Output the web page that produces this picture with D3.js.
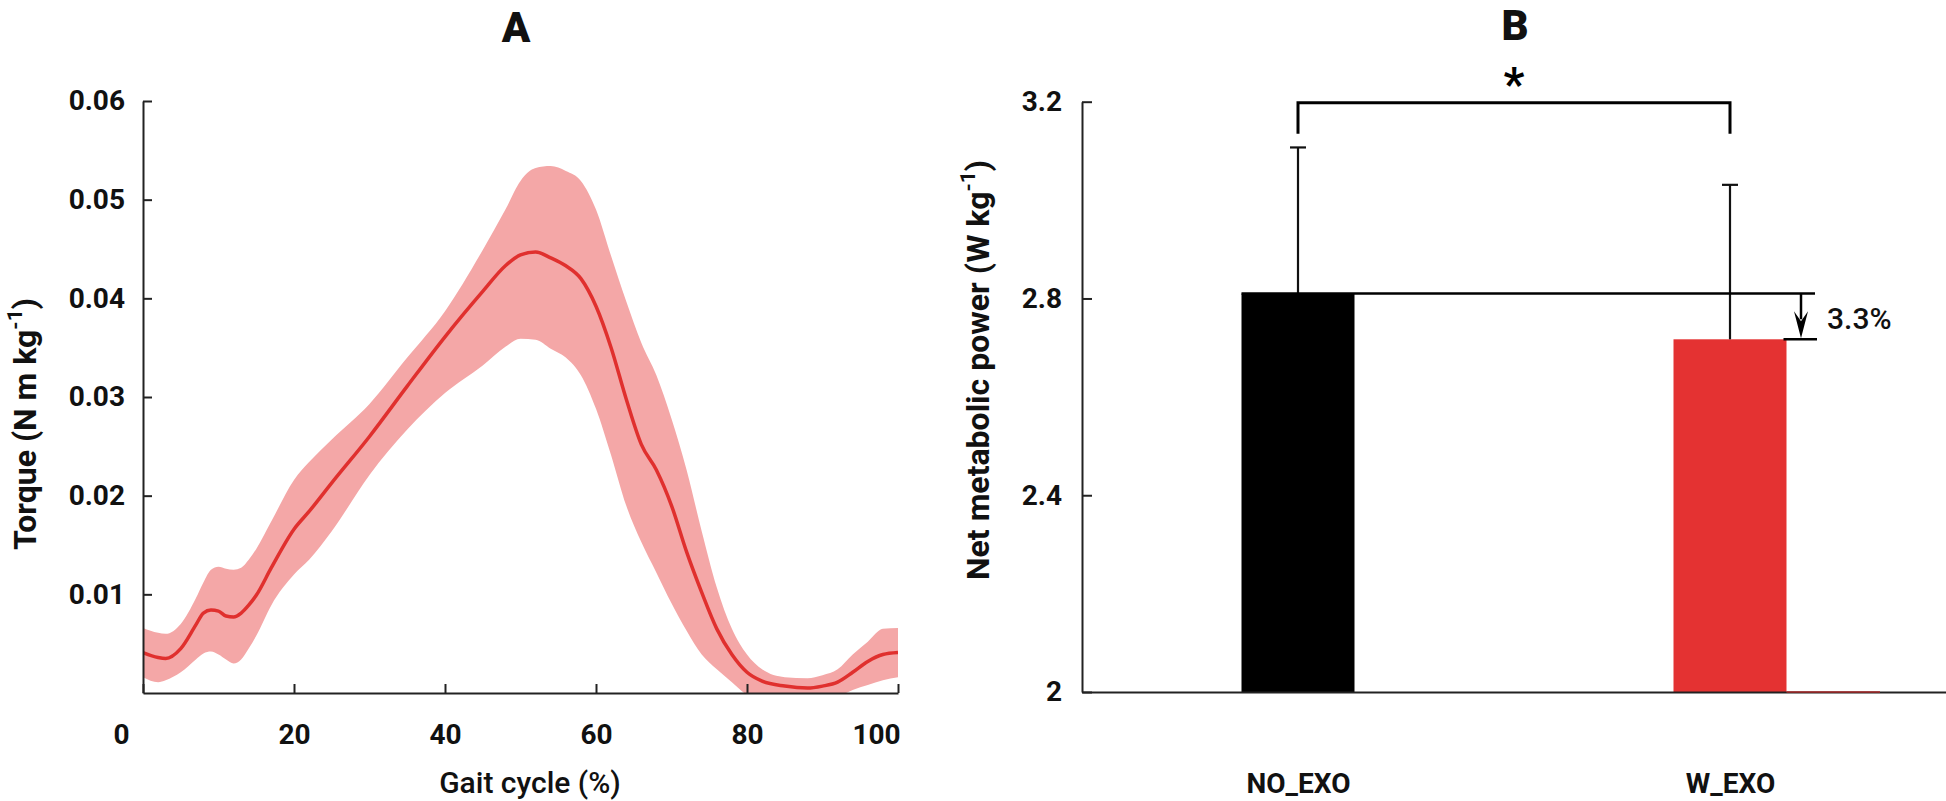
<!DOCTYPE html>
<html>
<head>
<meta charset="utf-8">
<script src="https://cdn.jsdelivr.net/npm/d3@7/dist/d3.min.js"></script>
<style>
  html, body { margin: 0; padding: 0; background: #fff; }
  svg { display: block; font-family: Roboto, "DejaVu Sans", sans-serif; }
  .axis text { font-size: 28px; font-weight: 700; fill: #111; font-family: Roboto, sans-serif; }
  .axis path, .axis line { stroke: #222; stroke-width: 2; }
</style>
</head>
<body>
<svg id="chart" width="1946" height="801"></svg>
<script>
// Panel A: gait cycle torque, mean and band (N m kg^-1)
const gaitPct = [0, 2, 3, 5, 7, 8, 9, 10, 11, 12, 13, 14, 15, 17, 20, 22, 25, 30, 35, 40, 45, 48, 50, 52, 54, 56, 58, 60, 62, 64, 66, 68, 70, 72, 74, 76, 78, 80, 82, 85, 88, 90, 92, 94, 96, 98, 100];
const torqueMean = [0.0041, 0.0036, 0.0035, 0.0045, 0.0069, 0.0081, 0.0084, 0.0083, 0.0078, 0.0077, 0.0081, 0.0089, 0.0099, 0.0127, 0.0166, 0.0184, 0.0213, 0.0260, 0.0311, 0.0361, 0.0407, 0.0433, 0.0444, 0.0447, 0.0441, 0.0433, 0.0420, 0.0392, 0.0350, 0.0298, 0.0252, 0.0226, 0.0190, 0.0143, 0.0102, 0.0065, 0.0039, 0.0021, 0.0012, 0.0007, 0.0005, 0.0007, 0.0011, 0.0021, 0.0032, 0.0039, 0.0041];
const torqueUpper = [0.0066, 0.0061, 0.0060, 0.0070, 0.0096, 0.0112, 0.0125, 0.0128, 0.0126, 0.0125, 0.0127, 0.0135, 0.0146, 0.0174, 0.0216, 0.0234, 0.0257, 0.0293, 0.0340, 0.0387, 0.0449, 0.0490, 0.0519, 0.0532, 0.0534, 0.0529, 0.0519, 0.0490, 0.0443, 0.0397, 0.0355, 0.0322, 0.0278, 0.0226, 0.0164, 0.0107, 0.0065, 0.0039, 0.0024, 0.0016, 0.0015, 0.0018, 0.0024, 0.0039, 0.0052, 0.0065, 0.0066];
const torqueLower = [0.0016, 0.0011, 0.0013, 0.0021, 0.0034, 0.0040, 0.0042, 0.0039, 0.0034, 0.0030, 0.0034, 0.0045, 0.0058, 0.0089, 0.0120, 0.0135, 0.0164, 0.0221, 0.0267, 0.0304, 0.0332, 0.0351, 0.0359, 0.0358, 0.0349, 0.0340, 0.0322, 0.0288, 0.0241, 0.0190, 0.0153, 0.0122, 0.0091, 0.0063, 0.0039, 0.0024, 0.0011, -0.0002, -0.0008, -0.0012, -0.0013, -0.0010, -0.0004, 0.0003, 0.0008, 0.0013, 0.0016];
const gaitTicks = [0, 20, 40, 60, 80, 100];
const torqueTicks = [0.01, 0.02, 0.03, 0.04, 0.05, 0.06];

// Panel B: net metabolic power (W kg^-1)
const conditions = ["NO_EXO", "W_EXO"];
const powerMean = [2.81, 2.717];
const powerSD = [0.297, 0.314];
const powerTicks = [2, 2.4, 2.8, 3.2];
const reductionLabel = "3.3%";

const svg = d3.select("#chart");

// ---------- Panel A ----------
const xA = d3.scaleLinear().domain([0, 100]).range([143, 898]);
const yA = d3.scaleLinear().domain([0, 0.06]).range([693, 101]);

const rowsA = gaitPct.map((p, i) => ({ p, m: torqueMean[i], hi: torqueUpper[i], lo: torqueLower[i] }));

svg.append("clipPath").attr("id", "clipA")
  .append("rect").attr("x", 143).attr("y", 90).attr("width", 755).attr("height", 603);

const gA = svg.append("g").attr("clip-path", "url(#clipA)");

gA.append("path")
  .datum(rowsA)
  .attr("fill", "#f4a7a7")
  .attr("d", d3.area().curve(d3.curveMonotoneX)
    .x(d => xA(d.p)).y0(d => yA(d.lo)).y1(d => yA(d.hi)));

gA.append("path")
  .datum(rowsA)
  .attr("fill", "none")
  .attr("stroke", "#e0302e")
  .attr("stroke-width", 3.5)
  .attr("d", d3.line().curve(d3.curveMonotoneX).x(d => xA(d.p)).y(d => yA(d.m)));

svg.append("g").attr("class", "axis")
  .attr("transform", "translate(0,693)")
  .call(d3.axisBottom(xA).tickValues(gaitTicks).tickSize(-9).tickSizeOuter(0).tickPadding(31).tickFormat(d3.format("d")))
  .selectAll("text")
  .attr("dx", d => (d === 0 || d === 100 ? -22 : 0));

svg.append("g").attr("class", "axis")
  .attr("transform", "translate(143,0)")
  .call(d3.axisLeft(yA).tickValues(torqueTicks).tickSize(-9).tickSizeOuter(0).tickPadding(18).tickFormat(d3.format(".2f")));

svg.append("text")
  .attr("x", 530).attr("y", 782).attr("text-anchor", "middle").attr("dominant-baseline", "central")
  .attr("font-size", 30).attr("font-weight", 500).attr("fill", "#111")
  .text("Gait cycle (%)");

const yTitleA = svg.append("text")
  .attr("transform", "translate(25,424) rotate(-90)")
  .attr("text-anchor", "middle").attr("dominant-baseline", "central")
  .attr("font-size", 32).attr("font-weight", 700).attr("fill", "#111");
yTitleA.append("tspan").text("Torque (N m kg");
yTitleA.append("tspan").attr("dy", -10).attr("font-size", 21).text("-1");
yTitleA.append("tspan").attr("dy", 10).text(")");

svg.append("text")
  .attr("x", 516).attr("y", 27).attr("text-anchor", "middle").attr("dominant-baseline", "central")
  .attr("font-size", 42).attr("font-weight", 900).attr("fill", "#111")
  .text("A");

// ---------- Panel B ----------
const xB = d3.scalePoint().domain(conditions).range([1082, 1946]).padding(0.5);
const yB = d3.scaleLinear().domain([2, 3.2]).range([692, 101.7]);
const barW = 113;
const barColors = ["#000000", "#e43232"];

const rowsB = conditions.map((c, i) => ({ c, m: powerMean[i], sd: powerSD[i], color: barColors[i] }));

svg.append("g").selectAll("rect")
  .data(rowsB)
  .join("rect")
  .attr("x", d => xB(d.c) - barW / 2)
  .attr("y", d => yB(d.m))
  .attr("width", barW)
  .attr("height", d => yB(2) - yB(d.m))
  .attr("fill", d => d.color);

// error bars (upper only)
const eb = svg.append("g").attr("stroke", "#111").attr("stroke-width", 2.2);
eb.selectAll("line.v").data(rowsB).join("line").attr("class", "v")
  .attr("x1", d => xB(d.c)).attr("x2", d => xB(d.c))
  .attr("y1", d => yB(d.m)).attr("y2", d => yB(d.m + d.sd));
eb.selectAll("line.cap").data(rowsB).join("line").attr("class", "cap")
  .attr("x1", d => xB(d.c) - 8).attr("x2", d => xB(d.c) + 8)
  .attr("y1", d => yB(d.m + d.sd)).attr("y2", d => yB(d.m + d.sd));

svg.append("g").attr("class", "axis")
  .attr("transform", "translate(1082,0)")
  .call(d3.axisLeft(yB).tickValues(powerTicks).tickSize(-10).tickSizeOuter(0).tickPadding(20).tickFormat(d => d3.format("")(d)))
  .call(g => g.selectAll("path, line").attr("stroke-width", 1.6));

svg.append("g").attr("class", "axis")
  .attr("transform", "translate(0,692)")
  .call(d3.axisBottom(xB).tickSize(0).tickSizeOuter(0).tickPadding(81))
  .call(g => g.select("path").attr("stroke-width", 1.6))
  .call(g => g.selectAll("text").attr("font-size", 30));

// thin red edge along the baseline right of the red bar
svg.append("line")
  .attr("x1", xB("W_EXO") + barW / 2).attr("x2", 1880)
  .attr("y1", 692).attr("y2", 692)
  .attr("stroke", "#a82a2a").attr("stroke-width", 1.6);

// significance bracket
const brY = yB(3.2) + 1;
svg.append("path")
  .attr("fill", "none").attr("stroke", "#000").attr("stroke-width", 3)
  .attr("d", `M${xB("NO_EXO")},${brY + 31}V${brY}H${xB("W_EXO")}V${brY + 31}`);
svg.append("text")
  .attr("x", (xB("NO_EXO") + xB("W_EXO")) / 2).attr("y", 84)
  .attr("text-anchor", "middle").attr("dominant-baseline", "central")
  .attr("font-size", 46).attr("font-weight", 700).attr("fill", "#000")
  .text("*");

// reduction reference lines and arrow
const refTop = yB(powerMean[0]);
const refBot = yB(powerMean[1]);
svg.append("line")
  .attr("x1", xB("NO_EXO") - barW / 2).attr("x2", 1815)
  .attr("y1", refTop).attr("y2", refTop)
  .attr("stroke", "#000").attr("stroke-width", 2.5);
svg.append("line")
  .attr("x1", xB("W_EXO") + barW / 2 - 3).attr("x2", 1817)
  .attr("y1", refBot).attr("y2", refBot)
  .attr("stroke", "#000").attr("stroke-width", 2.5);
svg.append("line")
  .attr("x1", 1801).attr("x2", 1801)
  .attr("y1", refTop).attr("y2", refBot - 20)
  .attr("stroke", "#000").attr("stroke-width", 2.5);
svg.append("path")
  .attr("fill", "#000")
  .attr("d", `M${1794},${refBot - 28}L${1801},${refBot - 1}L${1808},${refBot - 28}L${1801},${refBot - 18}Z`);
svg.append("text")
  .attr("x", 1827).attr("y", (refTop + refBot) / 2 + 2)
  .attr("dominant-baseline", "central")
  .attr("font-size", 30).attr("font-weight", 500).attr("fill", "#111")
  .text(reductionLabel);

const yTitleB = svg.append("text")
  .attr("transform", "translate(978,370) rotate(-90)")
  .attr("text-anchor", "middle").attr("dominant-baseline", "central")
  .attr("font-size", 32).attr("font-weight", 700).attr("fill", "#111");
yTitleB.append("tspan").text("Net metabolic power (W kg");
yTitleB.append("tspan").attr("dy", -10).attr("font-size", 21).text("-1");
yTitleB.append("tspan").attr("dy", 10).text(")");

svg.append("text")
  .attr("x", 1515).attr("y", 25).attr("text-anchor", "middle").attr("dominant-baseline", "central")
  .attr("font-size", 42).attr("font-weight", 900).attr("fill", "#111")
  .text("B");
</script>
</body>
</html>
